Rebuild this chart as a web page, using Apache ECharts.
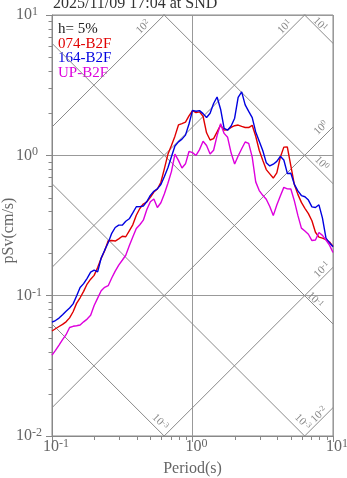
<!DOCTYPE html>
<html>
<head>
<meta charset="utf-8">
<script src="https://cdn.jsdelivr.net/npm/echarts@6/dist/echarts.min.js"></script>
<style>
  html, body { margin: 0; padding: 0; background: #fff; }
  #chart { width: 347px; height: 478px; }
</style>
</head>
<body>
<div id="chart"></div>
<script>
// Natural periods (s), log-spaced 0.1 .. 10
const periods = [
  0.1, 0.1059, 0.1122, 0.1189, 0.1259, 0.1334, 0.1413, 0.1496, 0.1585, 0.1679,
  0.1778, 0.1884, 0.1995, 0.2113, 0.2239, 0.2371, 0.2512, 0.2661, 0.2818, 0.2985,
  0.3162, 0.3350, 0.3548, 0.3758, 0.3981, 0.4217, 0.4467, 0.4732, 0.5012, 0.5309,
  0.5623, 0.5957, 0.6310, 0.6683, 0.7079, 0.7499, 0.7943, 0.8414, 0.8913, 0.9441,
  1.0, 1.059, 1.122, 1.189, 1.259, 1.334, 1.413, 1.496, 1.585, 1.679,
  1.778, 1.884, 1.995, 2.113, 2.239, 2.371, 2.512, 2.661, 2.818, 2.985,
  3.162, 3.350, 3.548, 3.758, 3.981, 4.217, 4.467, 4.732, 5.012, 5.309,
  5.623, 5.957, 6.310, 6.683, 7.079, 7.499, 7.943, 8.414, 8.913, 9.441,
  10.0
];

// Pseudo velocity response (cm/s), h = 5%
const sv074 = [
  0.0560, 0.0581, 0.0603, 0.0624, 0.0651, 0.0695, 0.0768, 0.0881, 0.0966, 0.1073,
  0.1210, 0.1311, 0.1395, 0.1586, 0.1845, 0.209, 0.246, 0.247, 0.245, 0.254,
  0.265, 0.263, 0.290, 0.320, 0.374, 0.418, 0.450, 0.466, 0.502, 0.547,
  0.576, 0.643, 0.805, 1.017, 1.176, 1.370, 1.647, 1.685, 1.727, 1.912,
  2.083, 2.019, 2.039, 1.899, 1.447, 1.286, 1.317, 1.468, 1.642, 1.512,
  1.522, 1.583, 1.626, 1.644, 1.607, 1.580, 1.578, 1.636, 1.368, 1.087,
  0.921, 0.791, 0.738, 0.689, 0.749, 0.969, 1.144, 1.146, 0.842, 0.619,
  0.527, 0.462, 0.419, 0.384, 0.342, 0.283, 0.261, 0.257, 0.251, 0.241,
  0.224
];
const sv164 = [
  0.0648, 0.0665, 0.0692, 0.0731, 0.0775, 0.0817, 0.0874, 0.0995, 0.1144, 0.1218,
  0.1330, 0.1471, 0.1520, 0.1478, 0.1854, 0.211, 0.238, 0.278, 0.306, 0.318,
  0.318, 0.339, 0.353, 0.389, 0.430, 0.431, 0.435, 0.469, 0.518, 0.555,
  0.577, 0.619, 0.706, 0.816, 0.976, 1.165, 1.248, 1.305, 1.393, 1.671,
  2.089, 2.062, 2.083, 1.983, 1.859, 1.996, 2.340, 2.603, 2.131, 1.557,
  1.510, 1.620, 1.838, 2.586, 2.831, 2.291, 2.056, 1.859, 1.468, 1.262,
  1.082, 0.887, 0.840, 0.864, 0.906, 0.984, 0.926, 0.743, 0.745, 0.621,
  0.558, 0.517, 0.507, 0.480, 0.429, 0.425, 0.444, 0.357, 0.257, 0.238,
  0.223
];
const svUP = [
  0.0377, 0.0408, 0.0445, 0.0486, 0.0527, 0.0593, 0.0605, 0.0610, 0.0618, 0.0651,
  0.0681, 0.0724, 0.0850, 0.0960, 0.1085, 0.1146, 0.1178, 0.1335, 0.1497, 0.1652,
  0.1788, 0.194, 0.227, 0.262, 0.301, 0.320, 0.345, 0.411, 0.467, 0.488,
  0.425, 0.459, 0.533, 0.633, 0.766, 1.021, 0.920, 0.813, 0.870, 1.066,
  1.045, 0.998, 1.098, 1.260, 1.174, 1.021, 1.087, 1.382, 1.682, 1.433,
  1.344, 1.038, 0.867, 0.989, 1.114, 1.244, 1.218, 0.972, 0.647, 0.561,
  0.519, 0.486, 0.432, 0.372, 0.442, 0.514, 0.591, 0.577, 0.576, 0.474,
  0.373, 0.303, 0.289, 0.274, 0.247, 0.249, 0.282, 0.269, 0.249, 0.229,
  0.203
];

const seriesNames = ['074-B2F', '164-B2F', 'UP-B2F'];
const seriesColors = ['#e00000', '#0000e0', '#dd00dd'];
const titleText = '2025/11/09 17:04 at SND';
const dampingText = 'h= 5%';

// Tripartite guide lines: constant pseudo acceleration (cm/s^2) and displacement (cm)
const accelLevels = [0.01, 0.1, 1, 10, 100];
const accelTags = ['-2', '-1', '0', '1', '2'];
const dispLevels = [0.001, 0.01, 0.1, 1, 10];
const dispTags = ['-3', '-3', '-1', '0', '1'];
// label placement relative to the line's end point (px)
const accelTagOffsets = [[-14, 7], [-11, 2.5], [-12, 1], [-20, 12], [-21, 12]];
const dispTagOffsets = [[-4, -14], [-2, -14], [-18, -24], [-11.5, -20.5], [-13, -19]];

const T_MIN = 0.1, T_MAX = 10, SV_MIN = 0.01, SV_MAX = 10;
const FONT = 'Liberation Serif, Times New Roman, serif';
const GUIDE = '#8a8a8a';

const chart = echarts.init(document.getElementById('chart'), null, { renderer: 'canvas' });

const axisRich = {
  b: { fontFamily: FONT, fontSize: 16, lineHeight: 18, color: '#666' },
  s: { fontFamily: FONT, fontSize: 12, lineHeight: 9, verticalAlign: 'top', color: '#666' }
};
const powLabel = v => '{b|10}{s|' + Math.round(Math.log10(v)) + '}';

const series = [];

accelLevels.forEach(a => {
  series.push({
    type: 'line', silent: true, symbol: 'none', z: 1, animation: false,
    lineStyle: { color: GUIDE, width: 1 },
    data: [[T_MIN, a * T_MIN / (2 * Math.PI)], [T_MAX, a * T_MAX / (2 * Math.PI)]]
  });
});
dispLevels.forEach(d => {
  series.push({
    type: 'line', silent: true, symbol: 'none', z: 1, animation: false,
    lineStyle: { color: GUIDE, width: 1 },
    data: [[T_MIN, 2 * Math.PI * d / T_MIN], [T_MAX, 2 * Math.PI * d / T_MAX]]
  });
});

[sv074, sv164, svUP].forEach((vals, k) => {
  series.push({
    name: seriesNames[k], type: 'line', symbol: 'none', z: 5, animation: false,
    lineStyle: { color: seriesColors[k], width: 1.4 },
    data: periods.map((t, i) => [t, vals[i]])
  });
});

// minor ticks at 2..9 within each decade
const minorTicks = [];
for (let e = -1; e < 1; e++) for (let m = 2; m <= 9; m++) minorTicks.push([m * Math.pow(10, e), SV_MIN, 0]);
for (let e = -2; e < 1; e++) for (let m = 2; m <= 9; m++) minorTicks.push([T_MIN, m * Math.pow(10, e), 1]);
series.push({
  type: 'custom', silent: true, clip: false, z: 3, animation: false,
  data: minorTicks,
  renderItem: (params, api) => {
    const p = api.coord([api.value(0), api.value(1)]);
    const vertical = api.value(2) === 0;
    const x = Math.round(p[0]) + 0.5, y = Math.round(p[1]) + 0.5;
    return {
      type: 'line',
      shape: vertical ? { x1: x, y1: y, x2: x, y2: y + 3.5 } : { x1: x - 4, y1: y, x2: x, y2: y },
      style: { stroke: '#888', lineWidth: 1 }
    };
  }
});

chart.setOption({
  animation: false,
  backgroundColor: '#fff',
  grid: {
    left: 52, top: 15, right: 14, bottom: 42,
    show: true, borderColor: '#888', borderWidth: 1,
    outerBoundsMode: 'none'
  },
  xAxis: {
    type: 'log', logBase: 10, min: T_MIN, max: T_MAX,
    name: 'Period(s)', nameLocation: 'middle', nameGap: 25, nameMoveOverlap: false,
    nameTextStyle: { fontFamily: FONT, fontSize: 16, color: '#666' },
    axisLine: { show: true, lineStyle: { color: '#888', width: 1 } },
    axisTick: { show: true, length: 6, lineStyle: { color: '#888' } },
    minorTick: { show: false },
    splitLine: { show: true, lineStyle: { color: '#999', width: 1 } },
    axisLabel: { formatter: powLabel, rich: axisRich, margin: 2, padding: [0, 0, 0, 8] }
  },
  yAxis: {
    type: 'log', logBase: 10, min: SV_MIN, max: SV_MAX,
    name: 'pSv(cm/s)', nameLocation: 'middle', nameGap: 35, nameRotate: 90, nameMoveOverlap: false,
    nameTextStyle: { fontFamily: FONT, fontSize: 16, color: '#666', padding: [0, 10, 0, 0] },
    axisLine: { show: true, lineStyle: { color: '#888', width: 1 } },
    axisTick: { show: true, length: 6, lineStyle: { color: '#888' } },
    minorTick: { show: false },
    splitLine: { show: true, lineStyle: { color: '#999', width: 1 } },
    axisLabel: { formatter: powLabel, rich: axisRich, margin: 36, align: 'left' }
  },
  series: series
});

// Text overlays: title, legend block and guide-line tags
const tagRich = {
  b: { fontFamily: FONT, fontSize: 11, lineHeight: 12, fill: '#888' },
  s: { fontFamily: FONT, fontSize: 8, lineHeight: 6, verticalAlign: 'top', fill: '#888' }
};
const graphics = [];
graphics.push({
  type: 'text', x: 53, y: 4,
  style: { text: titleText, fontFamily: FONT, fontSize: 16, fill: '#333', align: 'left', verticalAlign: 'middle' }
});
const legendLines = [[dampingText, '#222']].concat(seriesNames.map((n, k) => [n, seriesColors[k]]));
const legendY = [29.5, 44, 58.5, 73];
legendLines.forEach((item, k) => {
  graphics.push({
    type: 'text', x: 58, y: legendY[k],
    style: { text: item[0], fontFamily: FONT, fontSize: 15, fill: item[1], align: 'left', verticalAlign: 'middle' }
  });
});

accelLevels.forEach((a, k) => {
  // upper-right end of a constant-acceleration line
  const tEnd = Math.min(T_MAX, 2 * Math.PI * SV_MAX / a);
  const p = chart.convertToPixel({ gridIndex: 0 }, [tEnd, a * tEnd / (2 * Math.PI)]);
  graphics.push({
    type: 'text', x: p[0] + accelTagOffsets[k][0], y: p[1] + accelTagOffsets[k][1],
    rotation: Math.PI / 4,
    style: { text: '{b|10}{s|' + accelTags[k] + '}', rich: tagRich, align: 'center', verticalAlign: 'middle' }
  });
});
dispLevels.forEach((d, k) => {
  // lower-right end of a constant-displacement line
  const tEnd = Math.min(T_MAX, 2 * Math.PI * d / SV_MIN);
  const p = chart.convertToPixel({ gridIndex: 0 }, [tEnd, 2 * Math.PI * d / tEnd]);
  graphics.push({
    type: 'text', x: p[0] + dispTagOffsets[k][0], y: p[1] + dispTagOffsets[k][1],
    rotation: -Math.PI / 4,
    style: { text: '{b|10}{s|' + dispTags[k] + '}', rich: tagRich, align: 'center', verticalAlign: 'middle' }
  });
});

chart.setOption({ graphic: graphics });
</script>
</body>
</html>
